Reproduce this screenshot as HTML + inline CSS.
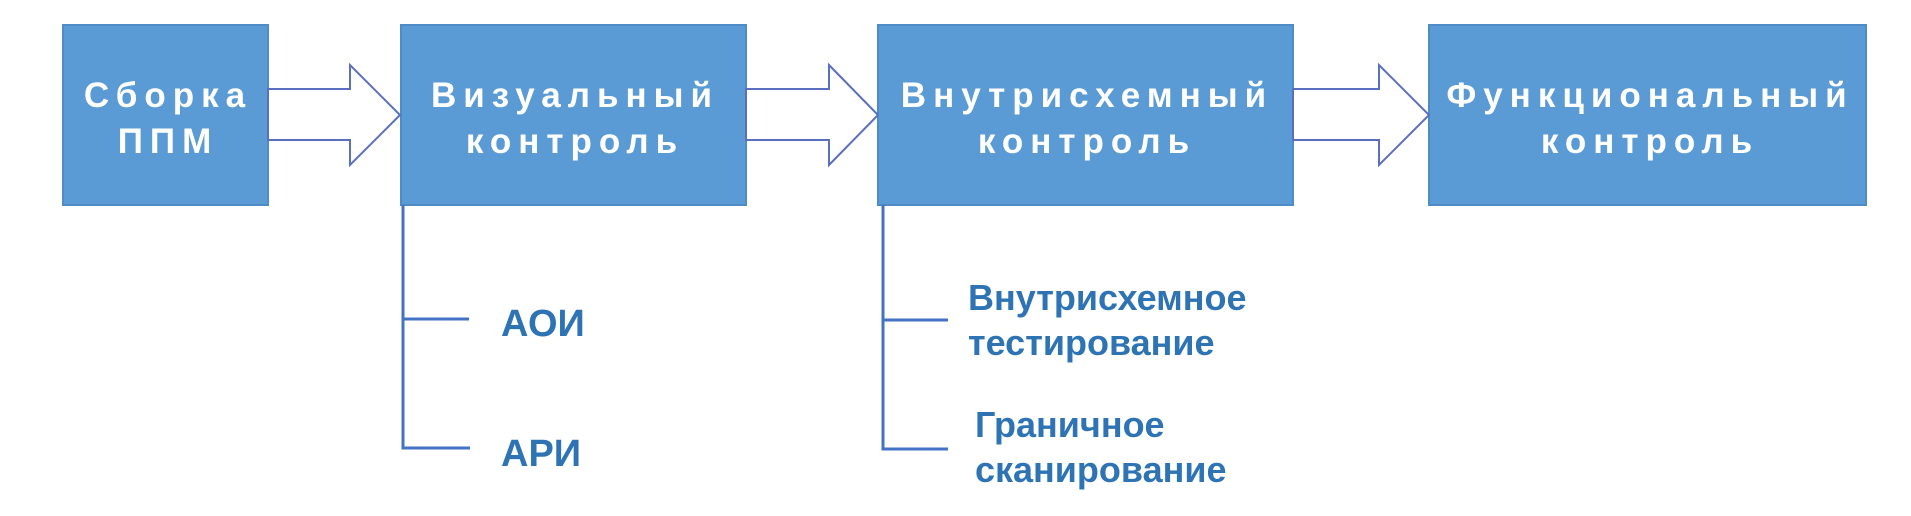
<!DOCTYPE html>
<html><head><meta charset="utf-8"><style>
html,body{margin:0;padding:0;background:#fff;}
svg{display:block;}
.bt{font-family:"Liberation Sans",sans-serif;font-weight:bold;font-size:35px;fill:#fff;letter-spacing:7px;text-anchor:middle;}
.st{font-family:"Liberation Sans",sans-serif;font-weight:bold;font-size:36px;fill:#2e74b5;}
</style></head><body>
<svg width="1911" height="516" viewBox="0 0 1911 516">
<g fill="#5b9bd5" stroke="#4f8bc4" stroke-width="2">
<rect x="63" y="25" width="205" height="180"/>
<rect x="401" y="25" width="345" height="180"/>
<rect x="878" y="25" width="415" height="180"/>
<rect x="1429" y="25" width="437" height="180"/>
</g>
<g fill="#fff" stroke="#5b6fc0" stroke-width="2">
<polygon points="268,89 350,89 350,65 400,115 350,165 350,140 268,140"/>
<polygon points="746,89 829,89 829,65 878,115 829,165 829,140 746,140"/>
<polygon points="1293,89 1379,89 1379,65 1429,115 1379,165 1379,140 1293,140"/>
</g>
<text class="bt" x="168" y="107">Сборка</text>
<text class="bt" x="168" y="153">ППМ</text>
<text class="bt" x="575" y="107">Визуальный</text>
<text class="bt" x="575" y="153">контроль</text>
<text class="bt" x="1087" y="107">Внутрисхемный</text>
<text class="bt" x="1087" y="153">контроль</text>
<text class="bt" x="1650" y="107">Функциональный</text>
<text class="bt" x="1650" y="153">контроль</text>
<g stroke="#4472c4" stroke-width="3" fill="none">
<polyline points="403,205 403,448 470,448"/>
<line x1="403" y1="319" x2="469" y2="319"/>
<polyline points="883,205 883,449 948,449"/>
<line x1="883" y1="320" x2="948" y2="320"/>
</g>
<text class="st" x="501" y="336" style="font-size:38px">АОИ</text>
<text class="st" x="501" y="466" style="font-size:38px">АРИ</text>
<text class="st" x="968" y="310">Внутрисхемное</text>
<text class="st" x="968" y="355">тестирование</text>
<text class="st" x="975" y="437">Граничное</text>
<text class="st" x="975" y="482">сканирование</text>
</svg>
</body></html>
